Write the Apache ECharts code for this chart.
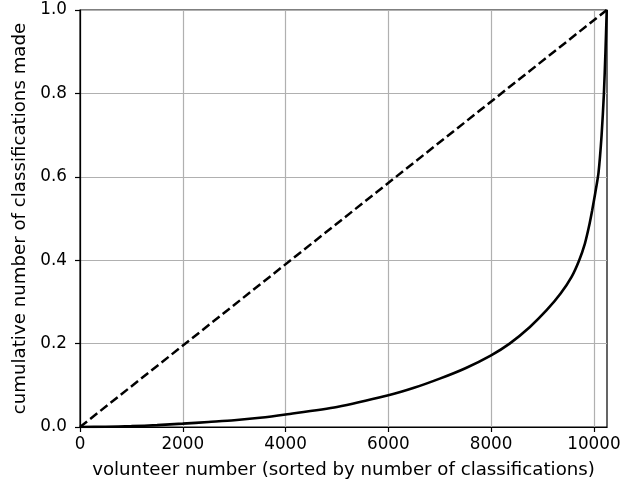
<!DOCTYPE html>
<html>
<head>
<meta charset="utf-8">
<script src="https://cdn.jsdelivr.net/npm/echarts@6/dist/echarts.min.js"></script>
<style>
html,body{margin:0;padding:0;background:#fff;}
#chart{width:644px;height:485px;}
</style>
</head>
<body>
<div id="chart"></div>
<script>
// Data
const volunteerNumber = [0, 500, 1000, 1500, 2000, 2500, 3000, 3500, 4000, 5000, 6000, 6500, 7000, 7500, 8000, 8360, 8755, 9080, 9352, 9566, 9714, 9825, 9903, 9967, 10025, 10090, 10150, 10195, 10225, 10250];
const cumulativeFraction = [0, 0.0006, 0.002, 0.0045, 0.008, 0.012, 0.016, 0.022, 0.030, 0.048, 0.076, 0.094, 0.116, 0.141, 0.172, 0.200, 0.240, 0.280, 0.320, 0.360, 0.400, 0.440, 0.480, 0.520, 0.560, 0.610, 0.700, 0.800, 0.900, 1.0];
const equalityX = [0, 10250];
const equalityY = [0, 1];
const xTicks = [0, 2000, 4000, 6000, 8000, 10000];
const xMax = 10255;
const xName = 'volunteer number (sorted by number of classifications)';
const yName = 'cumulative number of classifications made';

const font = 'DejaVu Sans';
const tickFs = 16.8;
const nameFs = 18.2;
const chart = echarts.init(document.getElementById('chart'), null, {renderer: 'canvas'});
chart.setOption({
  animation: false,
  backgroundColor: '#fff',
  grid: {left: 80, right: 37, top: 10, bottom: 58, show: true, borderColor: '#000', borderWidth: 1.2, backgroundColor: 'transparent'},
  xAxis: {
    type: 'value', min: 0, max: xMax,
    name: xName, nameLocation: 'middle', nameGap: 34,
    nameTextStyle: {fontFamily: font, fontSize: nameFs, color: '#000'},
    axisLine: {show: true, lineStyle: {color: '#000', width: 1.2}},
    axisTick: {show: true, customValues: xTicks, length: 5, lineStyle: {color: '#000', width: 1.2}},
    axisLabel: {customValues: xTicks, fontFamily: font, fontSize: tickFs, color: '#000', margin: 9, formatter: v => String(v)},
    splitLine: {show: true, lineStyle: {color: '#b0b0b0', width: 1.2}}
  },
  yAxis: {
    type: 'value', min: 0, max: 1, interval: 0.2,
    name: yName, nameLocation: 'middle', nameGap: 50,
    nameTextStyle: {fontFamily: font, fontSize: nameFs, color: '#000'},
    axisLine: {show: true, lineStyle: {color: '#000', width: 1.2}},
    axisTick: {show: true, length: 5, lineStyle: {color: '#000', width: 1.2}},
    axisLabel: {fontFamily: font, fontSize: tickFs, color: '#000', margin: 13, formatter: v => v.toFixed(1)},
    splitLine: {show: true, lineStyle: {color: '#b0b0b0', width: 1.2}}
  },
  series: [
    {
      type: 'line', data: equalityX.map((x, i) => [x, equalityY[i]]),
      showSymbol: false, lineStyle: {color: '#000', width: 2.5, type: [9, 4]}, z: 3
    },
    {
      type: 'line', data: volunteerNumber.map((x, i) => [x, cumulativeFraction[i]]),
      showSymbol: false, smooth: 0.25,
      lineStyle: {color: '#000', width: 2.6}, z: 4
    }
  ]
});
</script>
</body>
</html>
